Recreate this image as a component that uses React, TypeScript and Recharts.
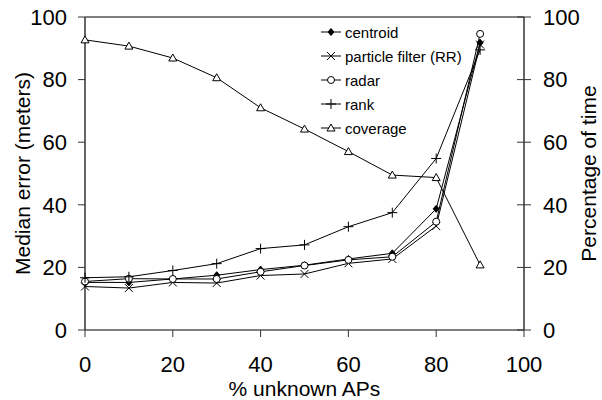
import React from 'react';
import { LineChart, Line, XAxis, YAxis, ReferenceLine } from 'recharts';

const unknownAPs = [0, 10, 20, 30, 40, 50, 60, 70, 80, 90];
const centroid = [15.2, 15.2, 16.3, 17.5, 19.3, 20.7, 22.7, 24.5, 38.7, 91.8];
const particleFilter = [13.9, 13.4, 15.2, 15.0, 17.4, 17.9, 21.3, 22.7, 33.2, 91.2];
const radar = [15.5, 16.4, 16.3, 16.3, 18.6, 20.6, 22.4, 23.4, 34.6, 94.6];
const rank = [16.7, 17.0, 19.0, 21.2, 26.0, 27.2, 33.0, 37.5, 54.8, 89.5];
const coverage = [92.7, 90.7, 86.9, 80.6, 71.0, 64.2, 57.0, 49.5, 48.7, 20.8];

const xTicks = [0, 20, 40, 60, 80, 100];
const yTicks = [0, 20, 40, 60, 80, 100];

const legendNames = ['centroid', 'particle filter (RR)', 'radar', 'rank', 'coverage'];

const data = unknownAPs.map((x, i) => ({
  x,
  centroid: centroid[i],
  pf: particleFilter[i],
  radar: radar[i],
  rank: rank[i],
  coverage: coverage[i],
}));

const FONT = "'Liberation Sans', Arial, Helvetica, sans-serif";
const FS = 22;
const TITLE_FS = 21;
const W = 602;
const H = 400;
const LEFT_W = 85;
const RIGHT_W = 78;
const TOP = 17;
const X_H = 70;
const PLOT_RIGHT = W - RIGHT_W;
const PLOT_MID_Y = (TOP + (H - X_H)) / 2;
const AX = '#333';

type MarkerKind = 'diamond' | 'cross' | 'circle' | 'plus' | 'triangle';
const markerKinds: MarkerKind[] = ['diamond', 'cross', 'circle', 'plus', 'triangle'];

function Marker({ kind, cx, cy }: { kind: MarkerKind; cx: number; cy: number }) {
  if (cx == null || cy == null || isNaN(cx) || isNaN(cy)) return <g />;
  switch (kind) {
    case 'diamond':
      return <path d={`M${cx},${cy - 3.5}L${cx + 3},${cy}L${cx},${cy + 3.5}L${cx - 3},${cy}Z`} fill="#000" stroke="#000" strokeWidth={1} />;
    case 'cross':
      return (
        <g stroke="#000" strokeWidth={1}>
          <line x1={cx - 4} y1={cy - 4} x2={cx + 4} y2={cy + 4} />
          <line x1={cx - 4} y1={cy + 4} x2={cx + 4} y2={cy - 4} />
        </g>
      );
    case 'circle':
      return <circle cx={cx} cy={cy} r={3.5} fill="#fff" stroke="#000" strokeWidth={1} />;
    case 'plus':
      return (
        <g stroke="#000" strokeWidth={1}>
          <line x1={cx - 5} y1={cy} x2={cx + 5} y2={cy} />
          <line x1={cx} y1={cy - 5} x2={cx} y2={cy + 5} />
        </g>
      );
    case 'triangle':
    default:
      return <path d={`M${cx},${cy - 4}L${cx + 4},${cy + 3}L${cx - 4},${cy + 3}Z`} fill="#fff" stroke="#000" strokeWidth={1} />;
  }
}

const dotRenderer = (kind: MarkerKind) => (props: any) => (
  <Marker key={`${kind}-${props.index}`} kind={kind} cx={props.cx} cy={props.cy} />
);

const RightTick = (props: any) => {
  const { y, payload } = props;
  return (
    <g>
      <line x1={PLOT_RIGHT - 7} x2={PLOT_RIGHT + 7} y1={y} y2={y} stroke={AX} strokeWidth={1} />
      <text x={PLOT_RIGHT + 19} y={y} dy="0.35em" fontSize={FS} fontFamily={FONT} fill="#000">
        {payload.value}
      </text>
    </g>
  );
};

const Title = ({ x, y, text, vertical }: { x: number; y: number; text: string; vertical?: boolean }) => (
  <text
    x={x}
    y={y}
    transform={vertical ? `rotate(-90 ${x} ${y})` : undefined}
    textAnchor="middle"
    dy="0.35em"
    fontSize={TITLE_FS}
    fontFamily={FONT}
    fill="#000"
  >
    {text}
  </text>
);

function LegendBox() {
  return (
    <div style={{ position: 'absolute', left: 321, top: 20, fontFamily: FONT, fontSize: 15, color: '#000' }}>
      {legendNames.map((name, i) => (
        <div key={name} style={{ display: 'flex', alignItems: 'center', height: 24 }}>
          <svg width={20} height={24} style={{ display: 'block' }}>
            <line x1={0} x2={20} y1={12} y2={12} stroke="#000" strokeWidth={1} />
            <Marker kind={markerKinds[i]} cx={10} cy={12} />
          </svg>
          <span style={{ marginLeft: 4, whiteSpace: 'nowrap' }}>{name}</span>
        </div>
      ))}
    </div>
  );
}

export default function App() {
  const tickStyle = { fontSize: FS, fill: '#000', fontFamily: FONT };
  return (
    <div style={{ position: 'absolute', left: 0, top: 0, width: W, height: H, background: '#fff' }}>
      <LineChart width={W} height={H} data={data} margin={{ top: TOP, right: 0, bottom: 0, left: 0 }}>
        <XAxis
          dataKey="x"
          type="number"
          domain={[0, 100]}
          ticks={xTicks}
          tickSize={7}
          tickMargin={19}
          height={X_H}
          tick={tickStyle}
          stroke="#000"
          axisLine={{ stroke: '#000', strokeWidth: 1 }}
          tickLine={{ stroke: AX }}
          label={{ content: () => <Title x={(LEFT_W + PLOT_RIGHT) / 2} y={389} text="% unknown APs" /> }}
        />
        <YAxis
          yAxisId="left"
          orientation="left"
          domain={[0, 100]}
          ticks={yTicks}
          width={LEFT_W}
          tickSize={7}
          tickMargin={11}
          tick={tickStyle}
          axisLine={{ stroke: AX, strokeWidth: 1.5 }}
          tickLine={{ stroke: AX }}
          label={{ content: () => <Title x={23} y={PLOT_MID_Y} text="Median error (meters)" vertical /> }}
        />
        <YAxis
          yAxisId="right"
          orientation="right"
          domain={[0, 100]}
          ticks={yTicks}
          width={RIGHT_W}
          tickLine={false}
          tick={RightTick}
          axisLine={{ stroke: AX, strokeWidth: 1.5 }}
          label={{ content: () => <Title x={589} y={PLOT_MID_Y} text="Percentage of time" vertical /> }}
        />
        <ReferenceLine yAxisId="left" y={100} stroke="#000" strokeWidth={1} />
        <Line yAxisId="left" dataKey="centroid" stroke="#000" strokeWidth={1} dot={dotRenderer('diamond')} isAnimationActive={false} />
        <Line yAxisId="left" dataKey="pf" stroke="#000" strokeWidth={1} dot={dotRenderer('cross')} isAnimationActive={false} />
        <Line yAxisId="left" dataKey="radar" stroke="#000" strokeWidth={1} dot={dotRenderer('circle')} isAnimationActive={false} />
        <Line yAxisId="left" dataKey="rank" stroke="#000" strokeWidth={1} dot={dotRenderer('plus')} isAnimationActive={false} />
        <Line yAxisId="right" dataKey="coverage" stroke="#000" strokeWidth={1} dot={dotRenderer('triangle')} isAnimationActive={false} />
      </LineChart>
      <LegendBox />
    </div>
  );
}
